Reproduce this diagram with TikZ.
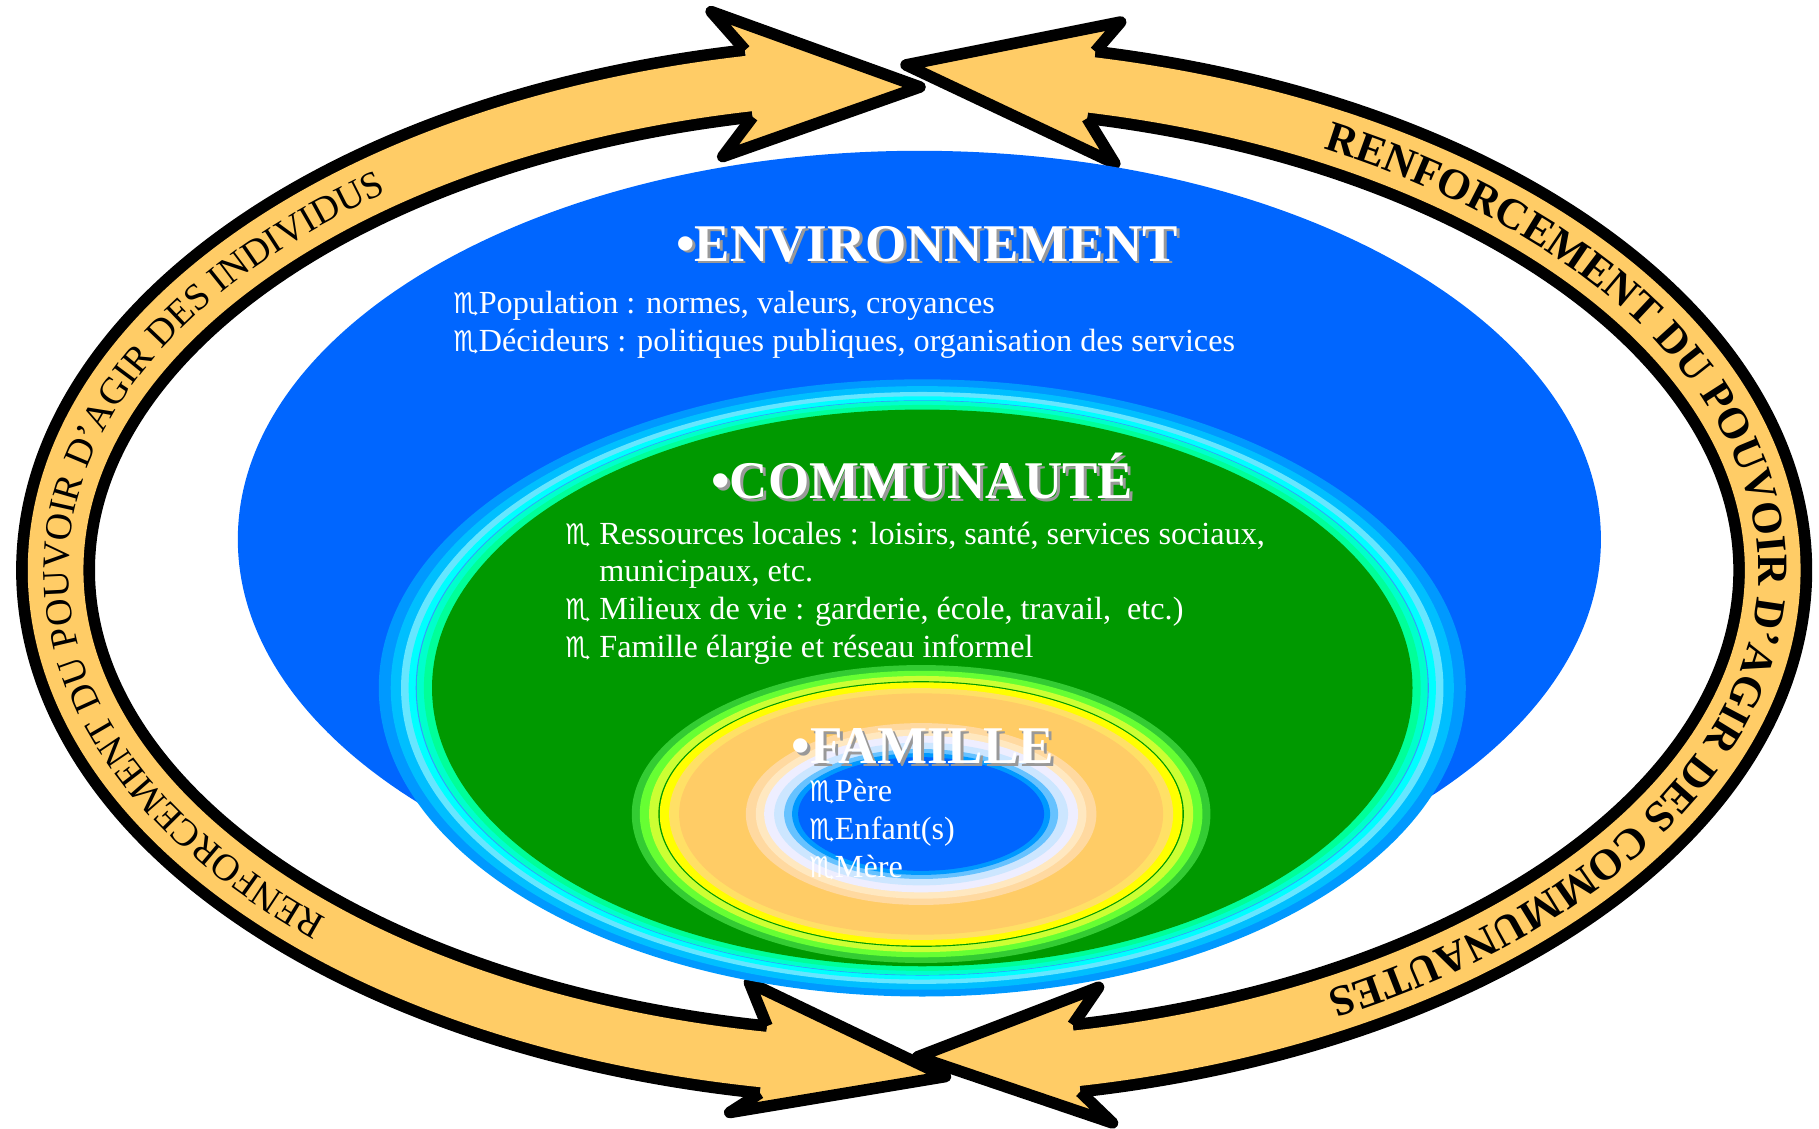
\documentclass[tikz,border=0pt]{standalone}
\usepackage{fontspec}
\setmainfont{Liberation Serif}
\newfontfamily\symfont{DejaVu Sans}
\usetikzlibrary{decorations.text}

\definecolor{bandorange}{HTML}{FFCC66}
\definecolor{envblue}{HTML}{0066FF}

\newcommand{\itm}{{\symfont\fontsize{7}{9}\selectfont ♏}}

\begin{document}
\begin{tikzpicture}[
    band/.style={line width=0.68cm, black},
    bandfill/.style={line width=0.48cm, bandorange},
    headfill/.style={fill=bandorange},
    headline/.style={draw=black, line width=0.1cm, line join=round},
    heading/.style={
        font=\fontsize{13}{15}\selectfont\bfseries,
        text=white,
        inner sep=0pt,
        anchor=base},
    headshadow/.style={heading, text=black!40},
    itemtext/.style={
        font=\fontsize{7.9}{9.4}\selectfont,
        text=white,
        inner sep=0pt,
        anchor=base west}
]

\useasboundingbox (0,0) rectangle (15.68,9.73);

\coordinate (ring) at (7.88,4.81);

% the two curved arrows
\draw[band] (ring) ++(101.1:7.40 and 4.28) arc[start angle=101.1, end angle=259.9, x radius=7.40, y radius=4.28];
\draw[band] (ring) ++(78.1:7.40 and 4.28) arc[start angle=78.1, end angle=-79.1, x radius=7.40, y radius=4.28];

\coordinate (TL-nu) at (6.423,9.298);
\coordinate (TL-bu) at (6.13,9.63);
\coordinate (TL-tp) at (7.93,8.98);
\coordinate (TL-bl) at (6.23,8.38);
\coordinate (TL-nl) at (6.488,8.722);

\coordinate (TR-nu) at (9.441,9.286);
\coordinate (TR-bu) at (9.66,9.54);
\coordinate (TR-tp) at (7.81,9.17);
\coordinate (TR-bl) at (9.61,8.32);
\coordinate (TR-nl) at (9.371,8.710);

\coordinate (BL-nu) at (6.612,0.885);
\coordinate (BL-bu) at (6.46,1.26);
\coordinate (BL-tp) at (8.15,0.45);
\coordinate (BL-bl) at (6.29,0.14);
\coordinate (BL-nl) at (6.552,0.308);

\coordinate (BR-nu) at (9.247,0.895);
\coordinate (BR-bu) at (9.47,1.22);
\coordinate (BR-tp) at (7.91,0.62);
\coordinate (BR-bl) at (9.59,0.05);
\coordinate (BR-nl) at (9.311,0.319);

\foreach \h in {TL,TR,BR,BL}{
    \fill[headfill] (\h-nu) -- (\h-bu) -- (\h-tp) -- (\h-bl) -- (\h-nl) -- cycle;
}

% orange core runs a little into the heads
\draw[bandfill] (ring) ++(99.6:7.40 and 4.28) arc[start angle=99.6, end angle=261.4, x radius=7.40, y radius=4.28];
\draw[bandfill] (ring) ++(79.6:7.40 and 4.28) arc[start angle=79.6, end angle=-80.6, x radius=7.40, y radius=4.28];

\foreach \h in {TL,TR,BR,BL}{
    \draw[headline] (\h-nu) -- (\h-bu) -- (\h-tp) -- (\h-bl) -- (\h-nl);
}

% texts on the arrows
\path[decorate, decoration={text along path, text align=left,
    text={|\fontsize{9.3}{11}\selectfont|RENFORCEMENT DU POUVOIR D'AGIR DES INDIVIDUS}}]
    (ring) ++(226:7.29 and 4.17) arc[start angle=226, end angle=110, x radius=7.29, y radius=4.17];
\path[decorate, decoration={text along path, text align=left,
    text={|\fontsize{10.6}{12}\selectfont\bfseries|RENFORCEMENT DU POUVOIR D'AGIR DES COMMUNAUTES}}]
    (ring) ++(61:7.276 and 4.156) arc[start angle=61, end angle=-80, x radius=7.276, y radius=4.156];

% environnement
\fill[envblue] (7.925,5.08) ellipse[x radius=5.875, y radius=3.35];

% communaute
\coordinate (comm) at (7.95,3.80);
\foreach \c/\s in {0099FF/1, 00BFFF/0.978, 66E6FF/0.959, 00FFFF/0.945, 3399FF/0.932,
    00FFCC/0.930, 00FF99/0.917, 009900/0.902}{
    \definecolor{ringcol}{HTML}{\c}
    \fill[ringcol] (comm) ellipse[x radius={\s*4.685}, y radius={\s*2.66}];
}

% famille
\coordinate (fam) at (7.94,2.713);
\foreach \c/\rx/\ry in {33CC33/2.494/1.284, 66FF33/2.425/1.235, CCFF33/2.345/1.19,
    009900/2.265/1.145, FFFF00/2.253/1.135, FFE066/2.172/1.085, FFCC66/2.086/1.04,
    FFD9A0/1.511/0.784, FFE8C0/1.425/0.73, EEEEFF/1.353/0.675, CCE6FF/1.267/0.615,
    66C2FF/1.181/0.56, 0099FF/1.112/0.525, 0066FF/1.06/0.49}{
    \definecolor{ringcol}{HTML}{\c}
    \fill[ringcol] (fam) ellipse[x radius=\rx, y radius=\ry];
}

% titles
\foreach \t/\x/\y in {ENVIRONNEMENT/7.99/7.48, COMMUNAUTÉ/7.95/5.43, FAMILLE/7.955/3.15}{
    \node[headshadow] (sh-\t) at (\x+0.025,\y-0.025) {•\t};
    \node[heading] (ti-\t) at (\x,\y) {•\t};
}

% lists
\node[itemtext] (env1) at (3.90,7.03) {\itm Population : normes, valeurs, croyances};
\node[itemtext] (env2) at (3.90,6.70) {\itm Décideurs : politiques publiques, organisation des services};

\node[itemtext] (com1) at (4.87,5.04) {\itm\ Ressources locales : loisirs, santé, services sociaux,};
\node[itemtext] (com2) at (4.87,4.72) {\phantom{\itm\ }municipaux, etc.};
\node[itemtext] (com3) at (4.87,4.39) {\itm\ Milieux de vie : garderie, école, travail,~ etc.)};
\node[itemtext] (com4) at (4.87,4.06) {\itm\ Famille élargie et réseau informel};

\node[itemtext] (fam1) at (6.97,2.82) {\itm Père};
\node[itemtext] (fam2) at (6.97,2.49) {\itm Enfant(s)};
\node[itemtext] (fam3) at (6.97,2.17) {\itm Mère};

\end{tikzpicture}
\end{document}
